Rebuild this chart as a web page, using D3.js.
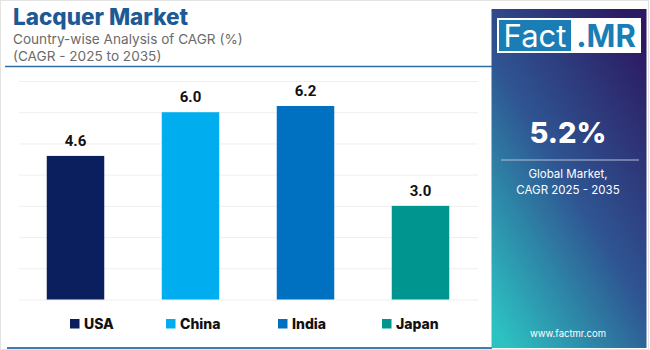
<!DOCTYPE html>
<html>
<head>
<meta charset="utf-8">
<script src="https://cdn.jsdelivr.net/npm/d3@7"></script>
<style>
  body { margin: 0; background: #fff; }
  svg { display: block; font-family: "Inter", "Noto Sans", sans-serif; }
</style>
</head>
<body>
<main></main>
<script>
const countries = ["USA", "China", "India", "Japan"],
  cagr = [4.6, 6.0, 6.2, 3.0],
  barColors = ["#0b1f5e", "#00aeef", "#0070c0", "#00968f"],
  yTicks = [0, 1, 2, 3, 4, 5, 6, 7];

const svgWidth = 650,
  svgHeight = 350;

const xScale = d3.scaleBand().domain(countries).range([18, 478]).paddingInner(0.5).paddingOuter(0.25),
  yScale = d3.scaleLinear().domain([0, 7]).range([299.5, 81]),
  colorScale = d3.scaleOrdinal().domain(countries).range(barColors);

const svg = d3.select("main").append("svg")
  .attr("width", svgWidth)
  .attr("height", svgHeight);

// outer frame
svg.append("rect").attr("x", 0.5).attr("y", 0.5).attr("width", 648).attr("height", 349)
  .attr("fill", "none").attr("stroke", "#e3e3e3");

// title block
svg.append("text").attr("x", 13).attr("y", 25)
  .attr("font-size", 22.5).attr("font-weight", 800).attr("fill", "#1d5a94")
  .text("Lacquer Market");
svg.append("text").attr("x", 13).attr("y", 44)
  .attr("font-size", 13.6).attr("fill", "#6b6b6b")
  .text("Country-wise Analysis of CAGR (%)");
svg.append("text").attr("x", 13).attr("y", 61)
  .attr("font-size", 13.6).attr("fill", "#6b6b6b")
  .text("(CAGR - 2025 to 2035)");

svg.append("line").attr("x1", 5).attr("x2", 492).attr("y1", 66.5).attr("y2", 66.5)
  .attr("stroke", "#2f6ea5").attr("stroke-width", 1.5);
svg.append("line").attr("x1", 7).attr("x2", 492).attr("y1", 348).attr("y2", 348)
  .attr("stroke", "#3c7fb0").attr("stroke-width", 2);

// gridlines
const grid = d3.axisLeft(yScale).tickValues(yTicks).tickSize(-(478 - 19)).tickFormat("");
svg.append("g").attr("transform", "translate(19,0)").call(grid)
  .call(g => g.select(".domain").remove())
  .call(g => g.selectAll(".tick line").attr("stroke", "#efefef"));

// bars
svg.append("g").selectAll("rect").data(countries).join("rect")
  .attr("x", d => xScale(d))
  .attr("width", xScale.bandwidth())
  .attr("y", (d, i) => yScale(cagr[i]))
  .attr("height", (d, i) => yScale(0) - yScale(cagr[i]))
  .attr("fill", d => colorScale(d));

svg.append("g").selectAll("text").data(countries).join("text")
  .attr("x", d => xScale(d) + xScale.bandwidth() / 2)
  .attr("y", (d, i) => yScale(cagr[i]) - 10)
  .attr("text-anchor", "middle")
  .attr("font-family", "Roboto, Arial, sans-serif")
  .attr("font-size", 15).attr("font-weight", 700).attr("fill", "#111")
  .text((d, i) => cagr[i].toFixed(1));

// legend
const legendX = [70, 166, 278, 382];
const legend = svg.append("g").selectAll("g").data(countries).join("g")
  .attr("transform", (d, i) => `translate(${legendX[i]},319)`);
legend.append("rect").attr("width", 9.5).attr("height", 9.5).attr("fill", d => colorScale(d));
legend.append("text").attr("x", 14).attr("y", 9.5)
  .attr("font-size", 14).attr("font-weight", 800).attr("fill", "#111")
  .text(d => d);

// side panel
const defs = svg.append("defs");
const grad = defs.append("linearGradient").attr("id", "panelGrad")
  .attr("x1", "0.85").attr("y1", "0").attr("x2", "0.1").attr("y2", "1");
grad.append("stop").attr("offset", "0").attr("stop-color", "#2c1a62");
grad.append("stop").attr("offset", "0.5").attr("stop-color", "#2f5592");
grad.append("stop").attr("offset", "1").attr("stop-color", "#2cc2c2");

svg.append("rect").attr("x", 491.5).attr("y", 9).attr("width", 155).attr("height", 339)
  .attr("fill", "url(#panelGrad)");

svg.append("rect").attr("x", 497).attr("y", 18).attr("width", 144).attr("height", 35).attr("fill", "#fff");
svg.append("rect").attr("x", 499).attr("y", 20).attr("width", 72).attr("height", 31).attr("fill", "#1a7db5");
svg.append("text").attr("x", 535).attr("y", 47).attr("text-anchor", "middle")
  .attr("font-size", 31).attr("font-weight", 400).attr("fill", "#fff")
  .text("Fact");
svg.append("text").attr("x", 606).attr("y", 47).attr("text-anchor", "middle")
  .attr("font-size", 31).attr("font-weight", 700).attr("fill", "#1a7db5")
  .text(".MR");

svg.append("text").attr("x", 568).attr("y", 143).attr("text-anchor", "middle")
  .attr("font-size", 29).attr("font-weight", 800).attr("fill", "#fff")
  .text("5.2%");
svg.append("line").attr("x1", 501).attr("x2", 639).attr("y1", 160).attr("y2", 160)
  .attr("stroke", "#b8bfd6").attr("stroke-width", 1.2);
svg.append("text").attr("x", 568).attr("y", 178).attr("text-anchor", "middle")
  .attr("font-size", 11.5).attr("fill", "#fff").text("Global Market,");
svg.append("text").attr("x", 568).attr("y", 194).attr("text-anchor", "middle")
  .attr("font-size", 11.5).attr("fill", "#fff").text("CAGR 2025 - 2035");
svg.append("text").attr("x", 568).attr("y", 337).attr("text-anchor", "middle")
  .attr("font-size", 9.5).attr("fill", "#fff").text("www.factmr.com");
</script>
</body>
</html>
